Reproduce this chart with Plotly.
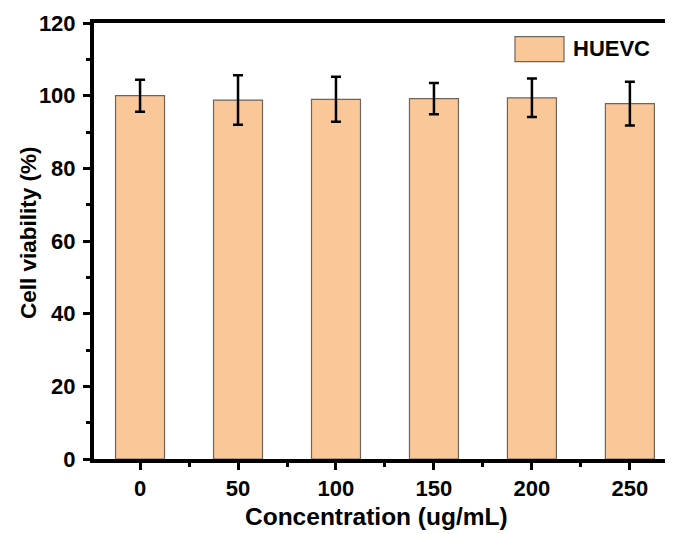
import plotly.graph_objects as go

categories = ["0", "50", "100", "150", "200", "250"]
viability = [100.0, 98.8, 99.0, 99.2, 99.4, 97.8]
errors = [4.4, 6.8, 6.2, 4.3, 5.3, 6.0]
y_ticks = [0, 20, 40, 60, 80, 100, 120]
series_name = "HUEVC"

FONT = "Liberation Sans, Arial, sans-serif"
positions = list(range(len(categories)))

W, H = 665, 526
L, T, B = 86, 15, 75
PW, PH = W - L, H - T - B


def px(fx):
    return (fx - L) / PW


def py(fy):
    return (H - B - fy) / PH


fig = go.Figure()
fig.add_trace(go.Bar(
    x=positions,
    y=viability,
    width=0.5,
    marker=dict(color="#FAC898", line=dict(color="#6e6458", width=1.2)),
    error_y=dict(type="data", array=errors, visible=True, color="black",
                 thickness=2.5, width=5),
    name=series_name,
    showlegend=False,
))

fig.update_layout(
    width=W, height=H,
    margin=dict(l=L, r=0, t=T, b=B, pad=0, autoexpand=False),
    plot_bgcolor="white", paper_bgcolor="white",
    xaxis=dict(
        range=[-0.47, 5.44], automargin=False,
        tickmode="array", tickvals=positions, ticktext=categories,
        showline=True, linecolor="black", linewidth=4, mirror=True,
        ticks="outside", ticklen=7, tickwidth=3, tickcolor="black",
        minor=dict(tickmode="array", tickvals=[p + 0.5 for p in positions[:-1]],
                   ticks="outside", ticklen=4, tickwidth=3, tickcolor="black"),
        showgrid=False, zeroline=False,
        tickfont=dict(family=FONT, size=22, color="black", weight="bold"),
        ticklabelstandoff=0,
    ),
    yaxis=dict(
        range=[0, 120], automargin=False,
        tickmode="array", tickvals=y_ticks,
        showline=True, linecolor="black", linewidth=4,
        ticks="outside", ticklen=7, tickwidth=3, tickcolor="black",
        minor=dict(dtick=10, ticks="outside", ticklen=4, tickwidth=3, tickcolor="black"),
        showgrid=False, zeroline=False,
        tickfont=dict(family=FONT, size=22, color="black", weight="bold"),
        ticklabelstandoff=3,
    ),
    showlegend=False,
)

# axis titles
fig.add_annotation(text="Concentration (ug/mL)", xref="paper", yref="paper",
                   x=px(368.5), y=py(508),
                   xanchor="center", yanchor="middle", showarrow=False,
                   font=dict(family=FONT, size=24.5, color="black", weight="bold"))
fig.add_annotation(text="Cell viability (%)", xref="paper", yref="paper",
                   x=px(20.5), y=py(224.5),
                   xanchor="center", yanchor="middle", textangle=-90, showarrow=False,
                   font=dict(family=FONT, size=22.5, color="black", weight="bold"))

# legend (swatch + label)
fig.add_shape(type="rect", xref="paper", yref="paper",
              x0=px(507), x1=px(556), y0=py(53.7), y1=py(28.7),
              fillcolor="#FAC898", line=dict(color="#6e6458", width=1.2))
fig.add_annotation(text=series_name, xref="paper", yref="paper",
                   x=px(562.5), y=py(40.5),
                   xanchor="left", yanchor="middle", showarrow=False,
                   font=dict(family=FONT, size=22, color="black", weight="bold"))

fig.write_html("out.html")
